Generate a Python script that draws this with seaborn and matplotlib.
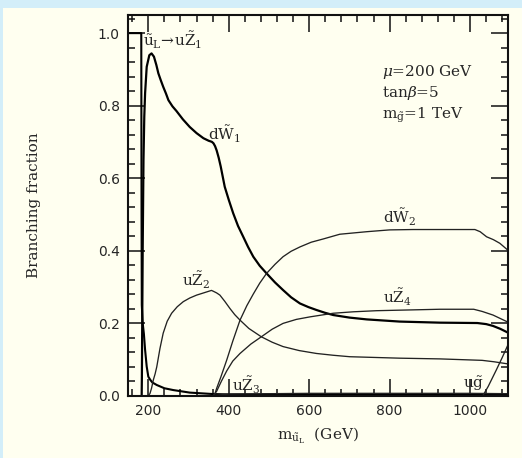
import matplotlib
matplotlib.use("Agg")
import matplotlib.pyplot as plt
from matplotlib.patches import Rectangle
from matplotlib.ticker import MultipleLocator
import numpy as np
import pandas as pd
import seaborn as sns

# Squark mass (GeV) and branching fractions for each decay mode of u_L
mass_uZ1 = [150, 182.5, 183.2, 183.8, 186, 189, 192, 196, 200, 205, 210, 221, 240, 262, 303, 361, 400, 600, 800, 1095]
bf_uZ1 = [1.0, 1.0, 0.5, 0.25, 0.2, 0.17, 0.126, 0.08, 0.052, 0.043, 0.036, 0.029, 0.02, 0.015, 0.008, 0.004, 0.003, 0.003, 0.002, 0.002]

mass_dW1 = [183.5, 184, 186, 188, 190, 192, 196, 202.5, 208, 214, 220, 225, 231, 237, 244, 250, 260, 270, 286, 303,
            320, 337, 350, 358, 362, 366, 370, 375, 380, 385, 390, 400, 411, 423, 436, 448, 461, 477, 494, 515,
            535, 555, 577, 598, 618, 640, 660, 700, 743, 825, 925, 1018, 1040, 1057, 1075, 1095]
bf_dW1 = [0.0, 0.05, 0.4, 0.65, 0.77, 0.834, 0.907, 0.939, 0.944, 0.935, 0.912, 0.889, 0.87, 0.852, 0.833, 0.815, 0.798, 0.785, 0.762, 0.741,
          0.724, 0.71, 0.703, 0.70, 0.696, 0.688, 0.676, 0.656, 0.632, 0.604, 0.576, 0.54, 0.503, 0.468, 0.438, 0.41, 0.383, 0.358, 0.337, 0.312,
          0.291, 0.271, 0.254, 0.244, 0.236, 0.228, 0.222, 0.215, 0.21, 0.204, 0.201, 0.200, 0.197, 0.192, 0.184, 0.173]

mass_uZ2 = [200, 204, 208, 212.5, 217, 221, 229, 237, 247, 258, 272, 287, 303, 320, 340, 357, 361, 370, 378, 390,
            403, 415, 428, 450, 481, 508, 535, 575, 618, 660, 701, 825, 925, 1030, 1060, 1095]
bf_uZ2 = [0.0, 0.005, 0.02, 0.043, 0.06, 0.079, 0.13, 0.172, 0.205, 0.227, 0.245, 0.259, 0.269, 0.277, 0.284, 0.290, 0.288, 0.283, 0.277, 0.26,
          0.24, 0.223, 0.208, 0.185, 0.162, 0.147, 0.135, 0.124, 0.116, 0.111, 0.107, 0.103, 0.101, 0.097, 0.093, 0.087]

mass_uZ3 = [362, 400, 600, 800, 1000, 1095]
bf_uZ3 = [0.0, 0.004, 0.006, 0.006, 0.006, 0.005]

mass_dW2 = [362, 366, 370, 380, 395, 410, 428, 445, 461, 477, 494, 515, 535, 555, 577, 605, 635, 676, 743, 800,
            858, 1012, 1025, 1041, 1058, 1074, 1095]
bf_dW2 = [0.0, 0.006, 0.02, 0.05, 0.098, 0.15, 0.208, 0.248, 0.28, 0.31, 0.337, 0.362, 0.383, 0.398, 0.41, 0.423, 0.432, 0.445, 0.452, 0.457,
          0.458, 0.458, 0.452, 0.438, 0.43, 0.42, 0.40]

mass_uZ4 = [362, 370, 382, 395, 410, 428, 455, 481, 508, 535, 568, 602, 660, 710, 767, 925, 1009, 1030, 1057, 1095]
bf_uZ4 = [0.0, 0.012, 0.04, 0.068, 0.095, 0.116, 0.142, 0.162, 0.183, 0.199, 0.21, 0.217, 0.227, 0.231, 0.234, 0.238, 0.238, 0.232, 0.222, 0.202]

mass_ug = [1032, 1045, 1065, 1080, 1095]
bf_ug = [0.0, 0.025, 0.07, 0.105, 0.142]

x_ticks = [200, 400, 600, 800, 1000]
y_ticks = [0.0, 0.2, 0.4, 0.6, 0.8, 1.0]

series = [
    ("uZ1", mass_uZ1, bf_uZ1, 1.5, "#000000"),
    ("dW1", mass_dW1, bf_dW1, 1.6, "#000000"),
    ("uZ2", mass_uZ2, bf_uZ2, 0.95, "#222222"),
    ("uZ3", mass_uZ3, bf_uZ3, 0.95, "#222222"),
    ("dW2", mass_dW2, bf_dW2, 0.95, "#222222"),
    ("uZ4", mass_uZ4, bf_uZ4, 0.95, "#222222"),
    ("ug", mass_ug, bf_ug, 0.95, "#222222"),
]
df = pd.concat(
    [pd.DataFrame({"mode": name, "mass": m, "bf": b}) for name, m, b, _, _ in series],
    ignore_index=True,
)

sns.set_style("ticks")
plt.rcParams["font.family"] = ["DejaVu Serif"]
plt.rcParams["mathtext.fontset"] = "dejavuserif"

cream = "#fffff0"
fig = plt.figure(figsize=(5.22, 4.58), dpi=100)
fig.patch.set_facecolor("#d3eef9")
panel = Rectangle((3 / 522, 0), 1, 450 / 458, transform=fig.transFigure,
                  facecolor=cream, edgecolor="none", zorder=-10)
fig.patches.append(panel)

ax = fig.add_axes([128.2 / 522, 62.5 / 458, 380.1 / 522, 380.5 / 458])
ax.set_facecolor(cream)
ax.set_zorder(1)

for name, _, _, lw, color in series:
    sns.lineplot(data=df[df["mode"] == name], x="mass", y="bf", ax=ax,
                 color=color, lw=lw, estimator=None, sort=False, legend=False)

ax.set_xlim(150, 1095)
ax.set_ylim(0.0, 1.05)
ax.set_xticks(x_ticks)
ax.set_yticks(y_ticks)
ax.set_xticklabels([str(v) for v in x_ticks], family="DejaVu Sans", fontsize=10)
ax.set_yticklabels([f"{v:.1f}" for v in y_ticks], family="DejaVu Sans", fontsize=10)
ax.xaxis.set_minor_locator(MultipleLocator(40))
ax.yaxis.set_minor_locator(MultipleLocator(0.04))
ax.tick_params(which="both", direction="in", top=True, right=True, width=1.1, color="#111111")
ax.tick_params(which="major", length=12, pad=6)
ax.tick_params(which="minor", length=5)
for sp in ax.spines.values():
    sp.set_linewidth(1.5)
    sp.set_color("#111111")

ax.set_xlabel(r"$\mathrm{m}_{\tilde{\mathrm{u}}_\mathrm{L}}$  (GeV)", fontsize=11, labelpad=6)
ax.set_ylabel("Branching fraction", fontsize=11, labelpad=41)

# Decay-mode labels
lab = dict(fontsize=11, ha="left", va="baseline")
ax.text(187, 0.962, r"$\tilde{\mathrm{u}}_\mathrm{L}\!\rightarrow\!\mathrm{u}\tilde{\mathrm{Z}}_1$", **lab)
ax.text(349, 0.703, r"$\mathrm{d}\tilde{\mathrm{W}}_1$", **lab)
ax.text(784, 0.475, r"$\mathrm{d}\tilde{\mathrm{W}}_2$", **lab)
ax.text(784, 0.254, r"$\mathrm{u}\tilde{\mathrm{Z}}_4$", **lab)
ax.text(285, 0.300, r"$\mathrm{u}\tilde{\mathrm{Z}}_2$", **lab)
ax.text(407, 0.010, r"$\mathrm{u}\tilde{\mathrm{Z}}_3$", **lab)
ax.text(983, 0.020, r"$\mathrm{u}\tilde{\mathrm{g}}$", **lab)

# Model parameters
ax.text(782, 0.881, r"$\mu$=200 GeV", **lab)
ax.text(782, 0.824, r"tan$\beta$=5", **lab)
ax.text(782, 0.763, r"$\mathrm{m}_{\tilde{\mathrm{g}}}$=1 TeV", **lab)

fig.savefig("out.png", dpi=100, facecolor=fig.get_facecolor())
